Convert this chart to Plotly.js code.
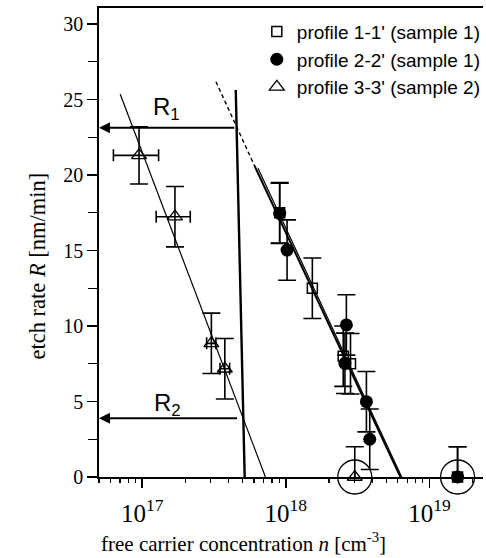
<!DOCTYPE html>
<html>
<head>
<meta charset="utf-8">
<script src="https://cdn.plot.ly/plotly-3.0.1.min.js"></script>
<style>html,body{margin:0;padding:0;background:#fff;overflow:hidden}#chart{width:486px;height:558px}</style>
</head>
<body>
<div id="chart"></div>
<script>
// profile 1-1' (sample 1) - open squares
const sqN = [9.06e17, 1.53e18, 2.51e18, 2.82e18, 1.57e19];
const sqR = [17.5, 12.5, 8.0, 7.5, 0];
const sqErr = [2, 2, 2, 2, 2];
// profile 2-2' (sample 1) - filled circles
const ciN = [9.06e17, 1.02e18, 2.64e18, 2.58e18, 3.64e18, 3.84e18, 1.57e19];
const ciR = [17.46, 15.03, 10.07, 7.53, 4.99, 2.5, 0];
const ciErr = [2, 2, 2, 2, 2, 2, 2];
// profile 3-3' (sample 2) - open triangles
const trN = [9.5e16, 1.69e17, 3.03e17, 3.76e17, 3.02e18];
const trR = [21.3, 17.24, 8.85, 7.17, 0];
const trErr = [1.9, 2, 2, 2, 2];
const trXPlus = [3.5e16, 4.7e16, 2.3e16, 3.0e16, 0];
const trXMinus = [3.2e16, 4.4e16, 2.2e16, 2.8e16, 0];
// circled points at R = 0
const ringN = [3.02e18, 1.57e19];
const ringR = [0, 0];
// fit lines
const fitTriN = [7.02e16, 7.21e17], fitTriR = [25.36, 0];
const fitAN = [6.06e17, 6.28e18], fitAR = [20.6, 0];
const fitADashN = [3.26e17, 6.06e17], fitADashR = [26.18, 20.6];
const fitBN = [6.40e17, 6.41e18], fitBR = [20.45, 0];
const vlineN = [4.48e17, 5.17e17], vlineR = [25.63, 0];
// arrows R1, R2
const arrowN = [4.59e17, 4.80e17];
const arrowR = [23.13, 3.89];
const arrowLabels = ['R<sub>1</sub>', 'R<sub>2</sub>'];
const labelN = [1.47e17, 1.51e17];
const labelR = [24.4, 4.8];
const xMin = 5e16;

const errY = (a) => ({type: 'data', array: a, visible: true, color: '#000', thickness: 1.6, width: 9});
const serif = 'Liberation Serif, Times New Roman, serif';
const sans = 'Liberation Sans, Arial, sans-serif';

const traces = [
  {x: fitTriN, y: fitTriR, mode: 'lines', line: {color: '#000', width: 1.2}, showlegend: false, hoverinfo: 'skip'},
  {x: fitAN, y: fitAR, mode: 'lines', line: {color: '#000', width: 2}, showlegend: false, hoverinfo: 'skip'},
  {x: fitBN, y: fitBR, mode: 'lines', line: {color: '#000', width: 1.2}, showlegend: false, hoverinfo: 'skip'},
  {x: fitADashN, y: fitADashR, mode: 'lines', line: {color: '#000', width: 1.4, dash: '4px,3px'}, showlegend: false, hoverinfo: 'skip'},
  {x: vlineN, y: vlineR, mode: 'lines', line: {color: '#000', width: 2.4}, showlegend: false, hoverinfo: 'skip'},
  {x: ringN, y: ringR, mode: 'markers', cliponaxis: false, marker: {symbol: 'circle-open', size: 34, color: '#000', line: {width: 1.3, color: '#000'}}, showlegend: false, hoverinfo: 'skip'},
  {x: sqN, y: sqR, name: "profile 1-1' (sample 1)", mode: 'markers', cliponaxis: false,
   marker: {symbol: 'square-open', size: 10, color: '#000', line: {width: 1.5, color: '#000'}}, error_y: errY(sqErr)},
  {x: ciN, y: ciR, name: "profile 2-2' (sample 1)", mode: 'markers', cliponaxis: false,
   marker: {symbol: 'circle', size: 13, color: '#000'}, error_y: errY(ciErr)},
  {x: trN, y: trR, name: "profile 3-3' (sample 2)", mode: 'markers', cliponaxis: false,
   marker: {symbol: 'triangle-up-open', size: 13, color: '#000', line: {width: 1.3, color: '#000'}}, error_y: errY(trErr),
   error_x: {type: 'data', array: trXPlus, arrayminus: trXMinus, symmetric: false, visible: true, color: '#000', thickness: 1.6, width: 6}}
];

const annotations = [];
for (let i = 0; i < arrowN.length; i++) {
  annotations.push({x: Math.log10(xMin), y: arrowR[i], xref: 'x', yref: 'y', ax: Math.log10(arrowN[i]), ay: arrowR[i], axref: 'x', ayref: 'y',
    text: ' ', showarrow: true, arrowhead: 2, arrowsize: 1, arrowwidth: 2.2, arrowcolor: '#000', standoff: 0, startstandoff: 0});
  annotations.push({x: Math.log10(labelN[i]), y: labelR[i], xref: 'x', yref: 'y', text: arrowLabels[i], showarrow: false,
    font: {family: sans, size: 24, color: '#000'}});
}
annotations.push({x: 0.377, y: -0.14, xref: 'paper', yref: 'paper', text: 'free carrier concentration <i>n</i> [cm<sup>-3</sup>]',
  showarrow: false, font: {family: serif, size: 21, color: '#000'}, xanchor: 'center', yanchor: 'middle'});
annotations.push({x: -0.16, y: 0.45, xref: 'paper', yref: 'paper', text: 'etch rate <i>R</i> [nm/min]', textangle: -90,
  showarrow: false, font: {family: serif, size: 22.5, color: '#000'}, xanchor: 'center', yanchor: 'middle'});

const layout = {
  width: 486, height: 558,
  margin: {l: 99, r: 0, t: 8, b: 81},
  paper_bgcolor: '#fff', plot_bgcolor: '#fff',
  showlegend: true,
  legend: {x: 0.411, y: 0.99, xanchor: 'left', yanchor: 'top', bgcolor: 'rgba(0,0,0,0)', borderwidth: 0,
    font: {family: sans, size: 19, color: '#000'}, itemwidth: 30, tracegroupgap: 0},
  xaxis: {type: 'log', range: [Math.log10(xMin), 19.373], dtick: 1, exponentformat: 'power', showexponent: 'all',
    showline: true, linecolor: '#000', linewidth: 1.8, mirror: true, showgrid: false, zeroline: false,
    ticks: 'outside', ticklen: 9, tickwidth: 1.5, tickcolor: '#000', ticklabelstandoff: 5,
    tickfont: {family: serif, size: 20, color: '#000'},
    minor: {ticks: 'outside', ticklen: 4, tickwidth: 1.2, tickcolor: '#000', dtick: 'D1', showgrid: false}},
  yaxis: {range: [0, 31.06], dtick: 5, tick0: 0,
    showline: true, linecolor: '#000', linewidth: 1.8, mirror: false, showgrid: false, zeroline: false,
    ticks: 'outside', ticklen: 10, tickwidth: 1.3, tickcolor: '#000',
    tickfont: {family: serif, size: 20, color: '#000'},
    minor: {ticks: 'outside', ticklen: 9, tickwidth: 1.2, tickcolor: '#000', dtick: 2.5, showgrid: false}},
  annotations: annotations
};

Plotly.newPlot('chart', traces, layout, {displayModeBar: false, staticPlot: true});
</script>
</body>
</html>
